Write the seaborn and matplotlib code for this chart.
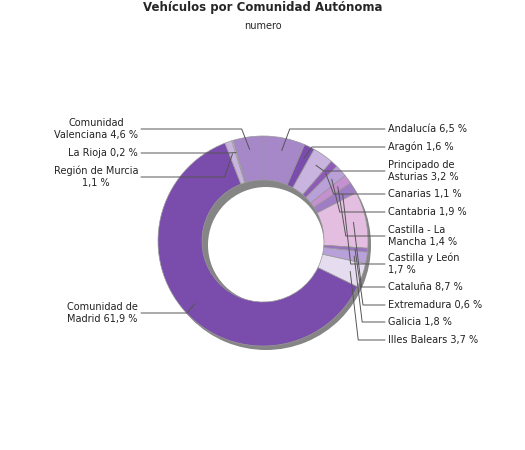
import numpy as np
import matplotlib
matplotlib.use('Agg')
import matplotlib.pyplot as plt
import seaborn as sns

# data, clockwise from the top
regions = ['Andalucía 6,5 %', 'Aragón 1,6 %', 'Principado de\nAsturias 3,2 %', 'Canarias 1,1 %',
           'Cantabria 1,9 %', 'Castilla - La\nMancha 1,4 %', 'Castilla y León\n1,7 %', 'Cataluña 8,7 %',
           'Extremadura 0,6 %', 'Galicia 1,8 %', 'Illes Balears 3,7 %', 'Comunidad de\nMadrid 61,9 %',
           'Región de Murcia\n1,1 %', 'La Rioja 0,2 %', 'Comunidad\nValenciana 4,6 %']
shares = [6.5, 1.6, 3.2, 1.1, 1.9, 1.4, 1.7, 8.7, 0.6, 1.8, 3.7, 61.9, 1.1, 0.2, 4.6]
colors = ['#a688c8', '#7a4dad', '#c8b4de', '#8e5cb6', '#b9a0d8', '#c590d0', '#a07cc4', '#e3bee0',
          '#9a70c0', '#b8a0d8', '#e6dcf0', '#7a4cab', '#c8b4de', '#d8c8e8', '#a688c8']
# label y positions (pixels from top) and side
label_y = [129, 147, 171, 194, 212, 236, 264, 287, 305, 322, 340, 313, 177, 153, 129]
side = ['r'] * 11 + ['l'] * 4

sns.set_style('white')
W, H = 525, 450
fig = plt.figure(figsize=(5.25, 4.5), dpi=100)
ax = fig.add_axes([0, 0, 1, 1])
ax.set_xlim(0, W)
ax.set_ylim(0, H)
ax.axis('off')

cx, cy, R, w = 263, 450 - 241, 105, 44
# shadow
ax.pie([1], colors=['#858585'], radius=R, center=(cx + 3, cy - 4), startangle=90,
       wedgeprops=dict(width=w + 3, linewidth=0), frame=True)
ax.pie(shares, colors=colors, radius=R, center=(cx, cy), startangle=90, counterclock=False,
       wedgeprops=dict(width=w, edgecolor='#999999', linewidth=0.5), frame=True)
ax.set_xlim(0, W)
ax.set_ylim(0, H)
ax.axis('off')

cum = np.cumsum([0] + shares)
for i, lab in enumerate(regions):
    mid = 90 - 360 * (cum[i] + cum[i + 1]) / 200
    px = cx + 0.88 * R * np.cos(np.radians(mid))
    py = cy + 0.88 * R * np.sin(np.radians(mid))
    ly = H - label_y[i]
    if side[i] == 'r':
        kx, tx = px + 8, 388
        ax.plot([px, kx, tx - 3], [py, ly, ly], color='#555555', lw=0.7)
        ax.text(tx, ly, lab, ha='left', va='center', fontsize=7, color='#222222', linespacing=1.3)
    else:
        kx, tx = px - 8, 138
        ax.plot([px, kx, tx + 3], [py, ly, ly], color='#555555', lw=0.7)
        ax.text(tx, ly, lab, ha='right', va='center', fontsize=7, color='#222222',
                linespacing=1.3, multialignment='center')

fig.text(0.5, 1 - 8 / H, 'Vehículos por Comunidad Autónoma', ha='center', va='center',
         fontsize=8.5, fontweight='bold')
fig.text(0.5, 1 - 26 / H, 'numero', ha='center', va='center', fontsize=7)
fig.savefig('out.png', dpi=100)
